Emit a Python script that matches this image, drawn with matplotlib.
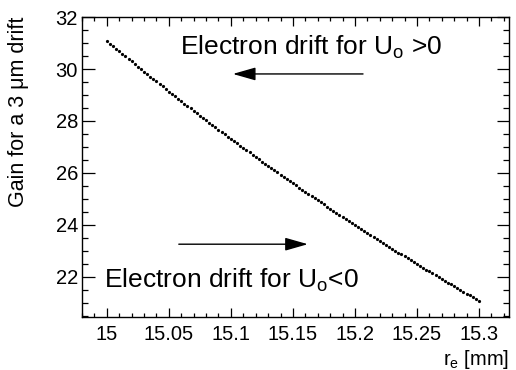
import numpy as np
import matplotlib
matplotlib.use('Agg')
import matplotlib.pyplot as plt
from matplotlib.ticker import MultipleLocator, FormatStrFormatter

plt.rcParams['font.family'] = ['Liberation Sans', 'DejaVu Sans']
plt.rcParams['mathtext.default'] = 'regular'

# electrode radius [mm], 0.0025 mm steps from 15.0 to 15.3
r_e = np.round(np.arange(121) * 0.0025 + 15.0, 4)

# gain for a 3 um drift at each radius
gain = [
    31.08, 30.98, 30.88, 30.78, 30.68, 30.59, 30.49, 30.39, 30.29, 30.19,
    30.09, 30.00, 29.90, 29.80, 29.71, 29.61, 29.52, 29.42, 29.33, 29.23,
    29.13, 29.04, 28.95, 28.86, 28.76, 28.67, 28.58, 28.49, 28.39, 28.30,
    28.21, 28.12, 28.03, 27.94, 27.85, 27.76, 27.67, 27.58, 27.49, 27.40,
    27.31, 27.22, 27.14, 27.05, 26.96, 26.88, 26.79, 26.70, 26.62, 26.53,
    26.44, 26.36, 26.27, 26.19, 26.11, 26.02, 25.94, 25.85, 25.77, 25.69,
    25.60, 25.52, 25.44, 25.36, 25.27, 25.19, 25.11, 25.03, 24.95, 24.87,
    24.79, 24.71, 24.63, 24.55, 24.47, 24.39, 24.31, 24.23, 24.16, 24.08,
    24.00, 23.92, 23.85, 23.77, 23.69, 23.62, 23.54, 23.46, 23.39, 23.31,
    23.23, 23.16, 23.09, 23.01, 22.94, 22.87, 22.79, 22.72, 22.64, 22.57,
    22.50, 22.42, 22.35, 22.28, 22.21, 22.14, 22.07, 21.99, 21.92, 21.85,
    21.78, 21.71, 21.64, 21.57, 21.50, 21.43, 21.36, 21.29, 21.22, 21.15,
    21.08,
]

fig = plt.figure(figsize=(5.16, 3.70), dpi=100)
ax = fig.add_axes([0.159, 0.144, 0.827, 0.810])

ax.plot(r_e, gain, 'o', color='black', markersize=2.3, markeredgewidth=0)

ax.set_xlim(14.98, 15.324)
ax.set_ylim(20.47, 32)

ax.xaxis.set_major_locator(MultipleLocator(0.05))
ax.xaxis.set_minor_locator(MultipleLocator(0.01))
ax.xaxis.set_major_formatter(FormatStrFormatter('%g'))
ax.yaxis.set_major_locator(MultipleLocator(2))
ax.yaxis.set_minor_locator(MultipleLocator(0.5))

ax.tick_params(which='both', direction='in', top=True, right=True,
               labelsize=14.5, width=0.9)
ax.tick_params(axis='x', which='major', length=6.5, pad=6)
ax.tick_params(axis='x', which='minor', length=3.1)
ax.tick_params(axis='y', which='major', length=9, pad=3)
ax.tick_params(axis='y', which='minor', length=4.5)
for s in ax.spines.values():
    s.set_linewidth(1.0)

ax.set_ylabel('Gain for a 3 \u03bcm drift', fontsize=15.5, loc='top', labelpad=19)
ax.set_xlabel('r$_e$ [mm]', fontsize=14.5, loc='right', labelpad=3)

# drift direction labels and arrows
ax.text(15.0589, 30.54, 'Electron drift for U$_o$ >0', fontsize=19,
        ha='left', va='baseline')
ax.text(14.9976, 21.59, 'Electron drift for U$_o$<0', fontsize=19,
        ha='left', va='baseline')

arrow = dict(arrowstyle='-|>,head_length=1.4,head_width=0.4', lw=1.0,
             color='black', shrinkA=0, shrinkB=0)
ax.annotate('', xy=(15.1016, 29.81), xytext=(15.2065, 29.81), arrowprops=arrow)
ax.annotate('', xy=(15.162, 23.26), xytext=(15.058, 23.26), arrowprops=arrow)

fig.savefig('out.png', dpi=100)
